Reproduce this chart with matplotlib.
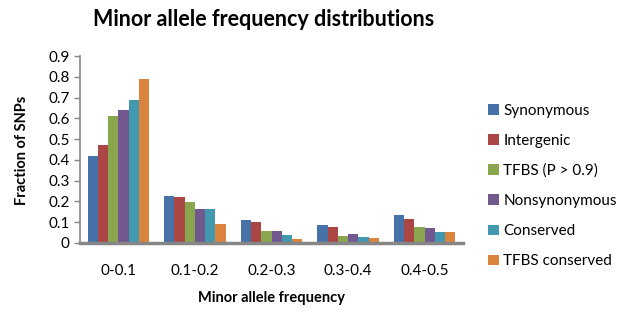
import matplotlib
matplotlib.use("Agg")
import matplotlib.pyplot as plt
import numpy as np

plt.rcParams['font.family'] = ['Lato', 'DejaVu Sans']

categories = ["0-0.1", "0.1-0.2", "0.2-0.3", "0.3-0.4", "0.4-0.5"]
series_names = ["Synonymous", "Intergenic", "TFBS (P > 0.9)", "Nonsynonymous", "Conserved", "TFBS conserved"]
synonymous = [0.42, 0.225, 0.112, 0.088, 0.135]
intergenic = [0.47, 0.22, 0.101, 0.076, 0.115]
tfbs = [0.61, 0.198, 0.058, 0.036, 0.076]
nonsynonymous = [0.64, 0.164, 0.058, 0.044, 0.071]
conserved = [0.69, 0.164, 0.039, 0.030, 0.052]
tfbs_conserved = [0.79, 0.092, 0.020, 0.023, 0.052]
series = [synonymous, intergenic, tfbs, nonsynonymous, conserved, tfbs_conserved]
colors = ["#4672A8", "#AA4744", "#89A54E", "#71588F", "#4198AF", "#DB843D"]

fig = plt.figure(figsize=(6.25, 3.13), dpi=100)
ax = fig.add_axes([80/625, 1-243/313, 383/625, 187/313])

x = np.arange(len(categories))
w = 0.8/6
for i, (vals, name, c) in enumerate(zip(series, series_names, colors)):
    ax.bar(x - 0.4 + w*(i+0.5), vals, width=w, color=c, label=name, edgecolor='none')

ax.set_xlim(-0.5, len(categories)-0.5)
ax.set_ylim(0, 0.9)
ax.set_yticks(np.arange(0, 0.91, 0.1))
ax.set_yticklabels(["0"] + [f"{v:.1f}" for v in np.arange(0.1, 0.91, 0.1)], fontsize=11)
ax.set_xticks(x)
ax.set_xticklabels(categories, fontsize=11)
ax.tick_params(axis='x', length=0, pad=15)
ax.tick_params(axis='y', length=4, color='#868686', width=1)
for s in ['top', 'right']:
    ax.spines[s].set_visible(False)
for s in ['left', 'bottom']:
    ax.spines[s].set_color('#868686')
    ax.spines[s].set_linewidth(1.2 if s == 'left' else 2.5)

fig.text(264/625, 1-20/313, "Minor allele frequency distributions", ha='center', va='center',
         fontsize=15.5, fontweight='bold')
fig.text(272/625, 1-298/313, "Minor allele frequency", ha='center', va='center',
         fontsize=10.5, fontweight='bold')
fig.text(22/625, 1-150/313, "Fraction of SNPs", ha='center', va='center', rotation=90,
         fontsize=10.5, fontweight='bold')

ax.legend(loc='center left', bbox_to_anchor=(482/625, 1-186/313), bbox_transform=fig.transFigure,
          frameon=False, fontsize=11, handlelength=0.7, handleheight=0.7, handletextpad=0.3,
          labelspacing=1.05, borderaxespad=0)

fig.savefig("out.png", dpi=100)
